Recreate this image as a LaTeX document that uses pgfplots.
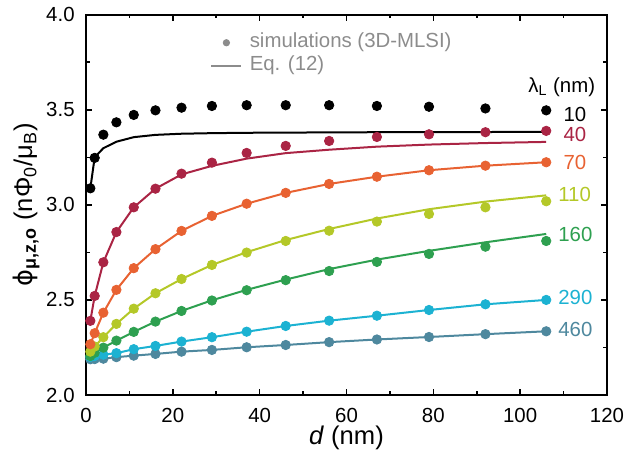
\documentclass[border=0pt]{standalone}
\usepackage{pgfplots}
\usepackage{pgfplotstable}
\pgfplotsset{compat=1.18}
\usepackage{fontspec}
\setmainfont{Liberation Sans}
\newfontfamily\djv{DejaVu Sans}
\definecolor{cA}{RGB}{0,0,0}
\definecolor{cB}{RGB}{170,36,68}
\definecolor{cC}{RGB}{232,98,50}
\definecolor{cD}{RGB}{180,200,40}
\definecolor{cE}{RGB}{46,160,80}
\definecolor{cF}{RGB}{28,178,210}
\definecolor{cG}{RGB}{78,136,158}
\definecolor{legendgray}{RGB}{140,140,140}

\pgfplotsset{
  legdot/.style={only marks, mark=*, mark size=1.6bp, color=legendgray,
    legend image code/.code={\draw[##1] plot coordinates {(7.5bp,0bp)};}},
  legline/.style={legendgray, line width=1bp,
    legend image code/.code={\draw[##1] (0bp,0bp) -- (15bp,0bp);}},
}

% lambda_L = 10 nm
\pgfplotstableread{
d sim eq
1 3.087 3.087
2 3.247 3.250
4 3.369 3.298
7 3.434 3.332
11 3.473 3.356
16 3.497 3.368
22 3.511 3.374
29 3.520 3.377
37 3.524 3.379
46 3.524 3.380
56 3.524 3.381
67 3.520 3.382
79 3.516 3.383
92 3.507 3.383
106 3.497 3.384
}\tabA
% 40 nm
\pgfplotstableread{
d sim eq
1 2.390 2.390
2 2.521 2.521
4 2.698 2.698
7 2.857 2.857
11 2.987 2.987
16 3.085 3.085
22 3.164 3.160
29 3.222 3.205
37 3.273 3.243
46 3.310 3.272
56 3.336 3.290
67 3.357 3.306
79 3.371 3.317
92 3.382 3.325
106 3.389 3.331
}\tabB
% 70 nm
\pgfplotstableread{
d sim eq
1 2.267 2.267
2 2.325 2.325
4 2.433 2.433
7 2.553 2.553
11 2.667 2.667
16 2.767 2.767
22 2.863 2.863
29 2.942 2.942
37 3.006 3.006
46 3.063 3.063
56 3.110 3.110
67 3.148 3.148
79 3.182 3.182
92 3.206 3.206
106 3.224 3.224
}\tabC
% 110 nm
\pgfplotstableread{
d sim eq
1 2.228 2.228
2 2.255 2.255
4 2.304 2.304
7 2.374 2.374
11 2.454 2.454
16 2.535 2.535
22 2.610 2.610
29 2.684 2.684
37 2.749 2.751
46 2.810 2.815
56 2.864 2.873
67 2.912 2.928
79 2.952 2.977
92 2.987 3.017
106 3.019 3.050
}\tabD
% 160 nm
\pgfplotstableread{
d sim eq
1 2.205 2.205
2 2.222 2.222
4 2.249 2.249
7 2.286 2.286
11 2.332 2.332
16 2.386 2.386
22 2.442 2.442
29 2.497 2.498
37 2.551 2.553
46 2.604 2.607
56 2.652 2.662
67 2.700 2.712
79 2.742 2.758
92 2.780 2.803
106 2.810 2.847
}\tabE
% 290 nm
\pgfplotstableread{
d sim eq
1 2.200 2.200
2 2.205 2.205
4 2.212 2.212
7 2.220 2.220
11 2.241 2.241
16 2.258 2.258
22 2.281 2.281
29 2.304 2.304
37 2.333 2.333
46 2.363 2.363
56 2.391 2.391
67 2.417 2.417
79 2.447 2.447
92 2.477 2.477
106 2.500 2.500
}\tabF
% 460 nm
\pgfplotstableread{
d sim eq
1 2.188 2.188
2 2.189 2.189
4 2.191 2.191
7 2.199 2.199
11 2.207 2.207
16 2.216 2.216
22 2.228 2.228
29 2.237 2.237
37 2.251 2.251
46 2.263 2.263
56 2.278 2.278
67 2.292 2.292
79 2.305 2.305
92 2.320 2.320
106 2.335 2.335
}\tabG

\begin{document}
\fontsize{10.2bp}{12bp}\selectfont
\begin{tikzpicture}
\useasboundingbox (-43bp,-30bp) rectangle (275.5bp,197.5bp);
\begin{axis}[
  at={(0,0)}, anchor=south west,
  scale only axis, width=260.5bp, height=190.15bp,
  xmin=0, xmax=120, ymin=2, ymax=4,
  xtick={0,20,...,120}, ytick={2,2.5,3,3.5,4},
  minor x tick num=1, minor y tick num=1,
  tick pos=both, xticklabel pos=lower, yticklabel pos=left,
  tick align=inside,
  major tick length=3bp, minor tick length=1.8bp,
  axis line style={line width=1bp},
  every tick/.style={black, line width=0.8bp},
  /pgf/number format/assume math mode=true,
  xticklabel style={inner sep=0pt, yshift=-6.3bp},
  yticklabel style={inner sep=0pt, xshift=-5.5bp,
    /pgf/number format/fixed, /pgf/number format/fixed zerofill,
    /pgf/number format/precision=1},
  every axis x label/.style={at={(axis description cs:0.5,-0.113)}, anchor=center,
    font=\fontsize{12.8bp}{15bp}\selectfont},
  every axis y label/.style={at={(axis description cs:-0.115,0.5)}, rotate=90, anchor=center,
    font=\fontsize{12.8bp}{15bp}\selectfont},
  xlabel={\textit{d} (nm)},
  ylabel={{\djv ϕ}\textsubscript{\textbf{μ,z,o}} (nΦ\textsubscript{0}/μ\textsubscript{B})},
  clip=false,
  legend style={at={(axis cs:28.56,3.792)}, anchor=west, draw=none, fill=none,
    inner sep=0pt, text=legendgray, column sep=3.7bp, row sep=1.3bp,
    nodes={inner sep=0pt, text height=0.75em, text depth=0.25em}},
  legend cell align=left,
]
\addlegendimage{legdot}
\addlegendentry{simulations (3D-MLSI)}
\addlegendimage{legline}
\addlegendentry{Eq. (12)}

\addplot[cG, line width=1bp, no marks, forget plot] table[x=d,y=eq] {\tabG};
\addplot[cG, only marks, mark=*, mark size=2.35bp, forget plot] table[x=d,y=sim] {\tabG};
\addplot[cF, line width=1bp, no marks, forget plot] table[x=d,y=eq] {\tabF};
\addplot[cF, only marks, mark=*, mark size=2.35bp, forget plot] table[x=d,y=sim] {\tabF};
\addplot[cE, line width=1bp, no marks, forget plot] table[x=d,y=eq] {\tabE};
\addplot[cE, only marks, mark=*, mark size=2.35bp, forget plot] table[x=d,y=sim] {\tabE};
\addplot[cD, line width=1bp, no marks, forget plot] table[x=d,y=eq] {\tabD};
\addplot[cD, only marks, mark=*, mark size=2.35bp, forget plot] table[x=d,y=sim] {\tabD};
\addplot[cC, line width=1bp, no marks, forget plot] table[x=d,y=eq] {\tabC};
\addplot[cC, only marks, mark=*, mark size=2.35bp, forget plot] table[x=d,y=sim] {\tabC};
\addplot[cB, line width=1bp, no marks, forget plot] table[x=d,y=eq] {\tabB};
\addplot[cB, only marks, mark=*, mark size=2.35bp, forget plot] table[x=d,y=sim] {\tabB};
\addplot[cA, only marks, mark=*, mark size=2.35bp, forget plot] table[x=d,y=sim] {\tabA};
\addplot[cA, line width=1bp, no marks, forget plot] table[x=d,y=eq] {\tabA};

\node[anchor=west, inner sep=0pt, text=black] at (axis cs:101.8,3.621) {λ\textsubscript{L} (nm)};
\node[anchor=west, inner sep=0pt, text=cA] at (axis cs:109.9,3.477) {10};
\node[anchor=west, inner sep=0pt, text=cB] at (axis cs:109.9,3.368) {40};
\node[anchor=west, inner sep=0pt, text=cC] at (axis cs:109.9,3.222) {70};
\node[anchor=west, inner sep=0pt, text=cD] at (axis cs:108.7,3.056) {110};
\node[anchor=west, inner sep=0pt, text=cE] at (axis cs:108.7,2.842) {160};
\node[anchor=west, inner sep=0pt, text=cF] at (axis cs:108.7,2.514) {290};
\node[anchor=west, inner sep=0pt, text=cG] at (axis cs:108.7,2.342) {460};
\end{axis}
\end{tikzpicture}
\end{document}
